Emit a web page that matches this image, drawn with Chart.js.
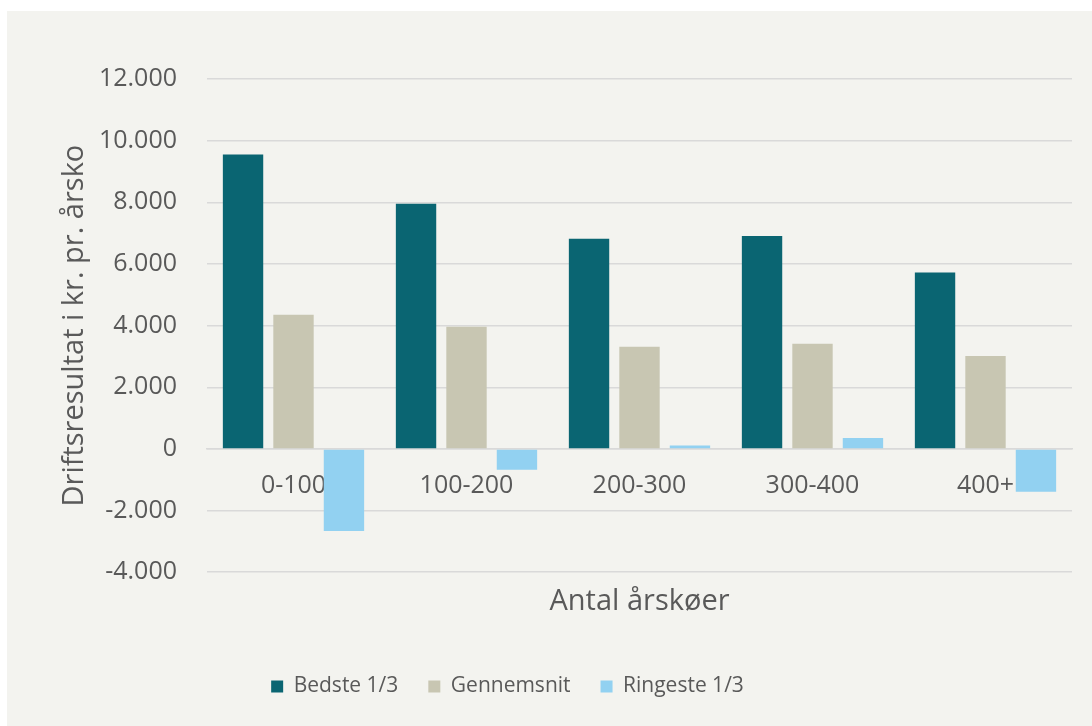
<!DOCTYPE html>
<html>
<head>
<meta charset="utf-8">
<script src="https://cdn.jsdelivr.net/npm/chart.js@4/dist/chart.umd.min.js"></script>
<style>
    html, body { margin: 0; padding: 0; background: #ffffff; }
    #wrap {
        position: absolute;
        left: 7px;
        top: 11px;
        width: 1085px;
        height: 715px;
        background: #f3f3ef;
    }
</style>
</head>
<body>
<div id="wrap"><canvas id="myChart"></canvas></div>
<script>
const categories = ['0-100', '100-200', '200-300', '300-400', '400+'];
const bedste = [9550, 7950, 6820, 6910, 5720];
const gennemsnit = [4350, 3960, 3310, 3410, 3010];
const ringeste = [-2660, -680, 110, 350, -1390];
const seriesNames = ['Bedste 1/3', 'Gennemsnit', 'Ringeste 1/3'];

const textColor = '#595959';
const fontName = "'Open Sans', sans-serif";

function formatThousands(v) {
    const s = Math.abs(v).toString().replace(/\B(?=(\d{3})+(?!\d))/g, '.');
    return (v < 0 ? '-' : '') + s;
}

// the legend in the original sits a bit left of centre
const legendShift = {
    id: 'legendShift',
    afterLayout(chart) {
        if (chart.legend) chart.legend.right -= 84;
    }
};

const ctx = document.getElementById('myChart').getContext('2d');
const chart = new Chart(ctx, {
    type: 'bar',
    data: {
        labels: categories,
        datasets: [
            { label: seriesNames[0], data: bedste, backgroundColor: '#0a6572' },
            { label: seriesNames[1], data: gennemsnit, backgroundColor: '#c8c6b2' },
            { label: seriesNames[2], data: ringeste, backgroundColor: '#92d1f1' }
        ]
    },
    plugins: [legendShift],
    options: {
        responsive: true,
        maintainAspectRatio: false,
        animation: false,
        datasets: {
            bar: { barPercentage: 0.8, categoryPercentage: 0.875 }
        },
        layout: {
            padding: { left: 20, right: 20, top: 68, bottom: 19 }
        },
        scales: {
            x: {
                position: { y: 0 },
                grid: { display: false, drawTicks: false },
                border: { display: true, color: '#d9d9d9', width: 1.5 },
                ticks: {
                    color: textColor,
                    padding: 22,
                    font: { family: fontName, size: 25 }
                }
            },
            y: {
                min: -4000,
                max: 12000,
                afterFit: scale => { scale.width = 180; },
                ticks: {
                    stepSize: 2000,
                    color: textColor,
                    padding: 30,
                    font: { family: fontName, size: 25 },
                    callback: value => formatThousands(value)
                },
                grid: { color: '#d9d9d9', lineWidth: 1.5, drawTicks: false },
                border: { display: false },
                title: {
                    display: true,
                    text: 'Driftsresultat i kr. pr. årsko',
                    color: textColor,
                    font: { family: fontName, size: 29 },
                    padding: { top: 30, bottom: 8 }
                }
            }
        },
        plugins: {
            title: {
                display: true,
                position: 'bottom',
                fullSize: false,
                weight: 500,
                text: 'Antal årskøer',
                color: textColor,
                font: { family: fontName, size: 29, weight: 'normal' },
                padding: { top: 12, bottom: 27 }
            },
            legend: {
                position: 'bottom',
                labels: {
                    boxWidth: 12,
                    boxHeight: 12,
                    padding: 30,
                    color: textColor,
                    font: { family: fontName, size: 21 }
                }
            },
            tooltip: { enabled: false }
        }
    }
});
</script>
</body>
</html>
